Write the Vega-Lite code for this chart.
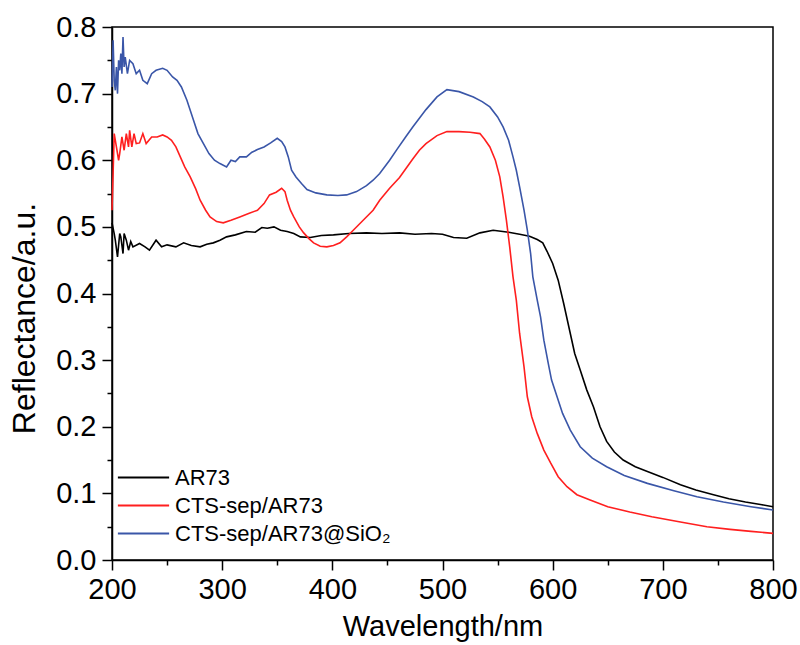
{
  "$schema": "https://vega.github.io/schema/vega-lite/v6.json",
  "width": 661,
  "height": 533,
  "autosize": {"type": "none"},
  "padding": {"left": 112, "top": 27, "right": 27, "bottom": 85},
  "background": "white",
  "config": {
    "view": {"stroke": "black", "strokeWidth": 1.5},
    "font": "Liberation Sans",
    "axis": {
      "grid": false,
      "domainColor": "black",
      "domainWidth": 1.5,
      "tickColor": "black",
      "tickWidth": 1.5,
      "labelFont": "Liberation Sans",
      "labelColor": "black",
      "titleFont": "Liberation Sans",
      "titleFontWeight": "normal",
      "titleColor": "black"
    }
  },
  "data": {
    "values": [
      {"s":"AR73","w":200,"r":0.506},{"s":"AR73","w":202,"r":0.49},{"s":"AR73","w":203,"r":0.48},{"s":"AR73","w":205,"r":0.455},{"s":"AR73","w":207,"r":0.49},{"s":"AR73","w":208,"r":0.485},{"s":"AR73","w":210,"r":0.46},{"s":"AR73","w":211,"r":0.49},{"s":"AR73","w":213,"r":0.48},{"s":"AR73","w":215,"r":0.465},{"s":"AR73","w":217,"r":0.478},{"s":"AR73","w":219,"r":0.47},{"s":"AR73","w":225,"r":0.475},{"s":"AR73","w":230,"r":0.47},{"s":"AR73","w":234,"r":0.465},{"s":"AR73","w":240,"r":0.48},{"s":"AR73","w":245,"r":0.47},{"s":"AR73","w":250,"r":0.473},{"s":"AR73","w":258,"r":0.47},{"s":"AR73","w":265,"r":0.476},{"s":"AR73","w":272,"r":0.472},{"s":"AR73","w":280,"r":0.47},{"s":"AR73","w":286,"r":0.474},{"s":"AR73","w":292,"r":0.476},{"s":"AR73","w":298,"r":0.48},{"s":"AR73","w":304,"r":0.485},{"s":"AR73","w":312,"r":0.488},{"s":"AR73","w":322,"r":0.493},{"s":"AR73","w":330,"r":0.492},{"s":"AR73","w":336,"r":0.499},{"s":"AR73","w":341,"r":0.498},{"s":"AR73","w":347,"r":0.5},{"s":"AR73","w":353,"r":0.495},{"s":"AR73","w":359,"r":0.493},{"s":"AR73","w":365,"r":0.49},{"s":"AR73","w":371,"r":0.485},{"s":"AR73","w":380,"r":0.484},{"s":"AR73","w":390,"r":0.487},{"s":"AR73","w":401,"r":0.488},{"s":"AR73","w":415,"r":0.49},{"s":"AR73","w":431,"r":0.491},{"s":"AR73","w":445,"r":0.49},{"s":"AR73","w":461,"r":0.491},{"s":"AR73","w":475,"r":0.489},{"s":"AR73","w":490,"r":0.49},{"s":"AR73","w":500,"r":0.489},{"s":"AR73","w":510,"r":0.484},{"s":"AR73","w":522,"r":0.483},{"s":"AR73","w":534,"r":0.491},{"s":"AR73","w":546,"r":0.495},{"s":"AR73","w":560,"r":0.492},{"s":"AR73","w":570,"r":0.489},{"s":"AR73","w":579,"r":0.486},{"s":"AR73","w":586,"r":0.481},{"s":"AR73","w":591,"r":0.476},{"s":"AR73","w":595,"r":0.463},{"s":"AR73","w":600,"r":0.445},{"s":"AR73","w":605,"r":0.42},{"s":"AR73","w":610,"r":0.385},{"s":"AR73","w":616,"r":0.34},{"s":"AR73","w":620,"r":0.31},{"s":"AR73","w":625,"r":0.285},{"s":"AR73","w":631,"r":0.255},{"s":"AR73","w":637,"r":0.23},{"s":"AR73","w":643,"r":0.2},{"s":"AR73","w":649,"r":0.178},{"s":"AR73","w":656,"r":0.162},{"s":"AR73","w":664,"r":0.15},{"s":"AR73","w":675,"r":0.14},{"s":"AR73","w":686,"r":0.133},{"s":"AR73","w":700,"r":0.124},{"s":"AR73","w":716,"r":0.113},{"s":"AR73","w":730,"r":0.105},{"s":"AR73","w":746,"r":0.098},{"s":"AR73","w":760,"r":0.092},{"s":"AR73","w":775,"r":0.087},{"s":"AR73","w":790,"r":0.083},{"s":"AR73","w":800,"r":0.08},

      {"s":"CTS-sep/AR73","w":200,"r":0.525},{"s":"CTS-sep/AR73","w":201,"r":0.58},{"s":"CTS-sep/AR73","w":202,"r":0.64},{"s":"CTS-sep/AR73","w":204,"r":0.62},{"s":"CTS-sep/AR73","w":206,"r":0.6},{"s":"CTS-sep/AR73","w":207,"r":0.61},{"s":"CTS-sep/AR73","w":209,"r":0.635},{"s":"CTS-sep/AR73","w":211,"r":0.615},{"s":"CTS-sep/AR73","w":213,"r":0.64},{"s":"CTS-sep/AR73","w":215,"r":0.62},{"s":"CTS-sep/AR73","w":216,"r":0.645},{"s":"CTS-sep/AR73","w":218,"r":0.62},{"s":"CTS-sep/AR73","w":220,"r":0.64},{"s":"CTS-sep/AR73","w":222,"r":0.625},{"s":"CTS-sep/AR73","w":225,"r":0.626},{"s":"CTS-sep/AR73","w":228,"r":0.64},{"s":"CTS-sep/AR73","w":231,"r":0.625},{"s":"CTS-sep/AR73","w":236,"r":0.635},{"s":"CTS-sep/AR73","w":241,"r":0.635},{"s":"CTS-sep/AR73","w":246,"r":0.638},{"s":"CTS-sep/AR73","w":250,"r":0.635},{"s":"CTS-sep/AR73","w":254,"r":0.63},{"s":"CTS-sep/AR73","w":258,"r":0.62},{"s":"CTS-sep/AR73","w":262,"r":0.605},{"s":"CTS-sep/AR73","w":266,"r":0.59},{"s":"CTS-sep/AR73","w":271,"r":0.575},{"s":"CTS-sep/AR73","w":276,"r":0.557},{"s":"CTS-sep/AR73","w":280,"r":0.54},{"s":"CTS-sep/AR73","w":285,"r":0.525},{"s":"CTS-sep/AR73","w":289,"r":0.515},{"s":"CTS-sep/AR73","w":295,"r":0.508},{"s":"CTS-sep/AR73","w":301,"r":0.506},{"s":"CTS-sep/AR73","w":308,"r":0.51},{"s":"CTS-sep/AR73","w":316,"r":0.515},{"s":"CTS-sep/AR73","w":324,"r":0.52},{"s":"CTS-sep/AR73","w":332,"r":0.525},{"s":"CTS-sep/AR73","w":338,"r":0.535},{"s":"CTS-sep/AR73","w":343,"r":0.548},{"s":"CTS-sep/AR73","w":349,"r":0.552},{"s":"CTS-sep/AR73","w":354,"r":0.558},{"s":"CTS-sep/AR73","w":357,"r":0.553},{"s":"CTS-sep/AR73","w":359,"r":0.54},{"s":"CTS-sep/AR73","w":362,"r":0.525},{"s":"CTS-sep/AR73","w":365,"r":0.515},{"s":"CTS-sep/AR73","w":370,"r":0.5},{"s":"CTS-sep/AR73","w":374,"r":0.491},{"s":"CTS-sep/AR73","w":379,"r":0.482},{"s":"CTS-sep/AR73","w":383,"r":0.476},{"s":"CTS-sep/AR73","w":389,"r":0.471},{"s":"CTS-sep/AR73","w":395,"r":0.47},{"s":"CTS-sep/AR73","w":401,"r":0.472},{"s":"CTS-sep/AR73","w":407,"r":0.476},{"s":"CTS-sep/AR73","w":413,"r":0.485},{"s":"CTS-sep/AR73","w":419,"r":0.495},{"s":"CTS-sep/AR73","w":428,"r":0.51},{"s":"CTS-sep/AR73","w":437,"r":0.525},{"s":"CTS-sep/AR73","w":443,"r":0.54},{"s":"CTS-sep/AR73","w":452,"r":0.558},{"s":"CTS-sep/AR73","w":461,"r":0.574},{"s":"CTS-sep/AR73","w":467,"r":0.588},{"s":"CTS-sep/AR73","w":473,"r":0.602},{"s":"CTS-sep/AR73","w":479,"r":0.615},{"s":"CTS-sep/AR73","w":485,"r":0.625},{"s":"CTS-sep/AR73","w":495,"r":0.637},{"s":"CTS-sep/AR73","w":504,"r":0.643},{"s":"CTS-sep/AR73","w":515,"r":0.643},{"s":"CTS-sep/AR73","w":525,"r":0.642},{"s":"CTS-sep/AR73","w":534,"r":0.64},{"s":"CTS-sep/AR73","w":538,"r":0.632},{"s":"CTS-sep/AR73","w":543,"r":0.62},{"s":"CTS-sep/AR73","w":548,"r":0.6},{"s":"CTS-sep/AR73","w":552,"r":0.575},{"s":"CTS-sep/AR73","w":555,"r":0.545},{"s":"CTS-sep/AR73","w":558,"r":0.51},{"s":"CTS-sep/AR73","w":561,"r":0.47},{"s":"CTS-sep/AR73","w":564,"r":0.425},{"s":"CTS-sep/AR73","w":567,"r":0.39},{"s":"CTS-sep/AR73","w":570,"r":0.34},{"s":"CTS-sep/AR73","w":574,"r":0.29},{"s":"CTS-sep/AR73","w":577,"r":0.245},{"s":"CTS-sep/AR73","w":581,"r":0.215},{"s":"CTS-sep/AR73","w":586,"r":0.19},{"s":"CTS-sep/AR73","w":592,"r":0.165},{"s":"CTS-sep/AR73","w":598,"r":0.146},{"s":"CTS-sep/AR73","w":605,"r":0.125},{"s":"CTS-sep/AR73","w":613,"r":0.11},{"s":"CTS-sep/AR73","w":622,"r":0.098},{"s":"CTS-sep/AR73","w":634,"r":0.09},{"s":"CTS-sep/AR73","w":650,"r":0.08},{"s":"CTS-sep/AR73","w":670,"r":0.072},{"s":"CTS-sep/AR73","w":690,"r":0.065},{"s":"CTS-sep/AR73","w":716,"r":0.057},{"s":"CTS-sep/AR73","w":740,"r":0.05},{"s":"CTS-sep/AR73","w":761,"r":0.046},{"s":"CTS-sep/AR73","w":780,"r":0.043},{"s":"CTS-sep/AR73","w":800,"r":0.04},

      {"s":"CTS-sep/AR73@SiO₂","w":200,"r":0.71},{"s":"CTS-sep/AR73@SiO₂","w":201,"r":0.78},{"s":"CTS-sep/AR73@SiO₂","w":202,"r":0.72},{"s":"CTS-sep/AR73@SiO₂","w":203,"r":0.705},{"s":"CTS-sep/AR73@SiO₂","w":204,"r":0.74},{"s":"CTS-sep/AR73@SiO₂","w":205,"r":0.7},{"s":"CTS-sep/AR73@SiO₂","w":206,"r":0.75},{"s":"CTS-sep/AR73@SiO₂","w":207,"r":0.735},{"s":"CTS-sep/AR73@SiO₂","w":208,"r":0.76},{"s":"CTS-sep/AR73@SiO₂","w":209,"r":0.73},{"s":"CTS-sep/AR73@SiO₂","w":210,"r":0.785},{"s":"CTS-sep/AR73@SiO₂","w":211,"r":0.74},{"s":"CTS-sep/AR73@SiO₂","w":212,"r":0.755},{"s":"CTS-sep/AR73@SiO₂","w":214,"r":0.73},{"s":"CTS-sep/AR73@SiO₂","w":216,"r":0.75},{"s":"CTS-sep/AR73@SiO₂","w":219,"r":0.745},{"s":"CTS-sep/AR73@SiO₂","w":222,"r":0.73},{"s":"CTS-sep/AR73@SiO₂","w":225,"r":0.735},{"s":"CTS-sep/AR73@SiO₂","w":228,"r":0.72},{"s":"CTS-sep/AR73@SiO₂","w":232,"r":0.715},{"s":"CTS-sep/AR73@SiO₂","w":236,"r":0.73},{"s":"CTS-sep/AR73@SiO₂","w":240,"r":0.735},{"s":"CTS-sep/AR73@SiO₂","w":246,"r":0.738},{"s":"CTS-sep/AR73@SiO₂","w":250,"r":0.735},{"s":"CTS-sep/AR73@SiO₂","w":255,"r":0.725},{"s":"CTS-sep/AR73@SiO₂","w":259,"r":0.72},{"s":"CTS-sep/AR73@SiO₂","w":263,"r":0.71},{"s":"CTS-sep/AR73@SiO₂","w":268,"r":0.69},{"s":"CTS-sep/AR73@SiO₂","w":274,"r":0.66},{"s":"CTS-sep/AR73@SiO₂","w":278,"r":0.64},{"s":"CTS-sep/AR73@SiO₂","w":283,"r":0.625},{"s":"CTS-sep/AR73@SiO₂","w":288,"r":0.61},{"s":"CTS-sep/AR73@SiO₂","w":293,"r":0.6},{"s":"CTS-sep/AR73@SiO₂","w":298,"r":0.595},{"s":"CTS-sep/AR73@SiO₂","w":304,"r":0.59},{"s":"CTS-sep/AR73@SiO₂","w":308,"r":0.6},{"s":"CTS-sep/AR73@SiO₂","w":312,"r":0.598},{"s":"CTS-sep/AR73@SiO₂","w":316,"r":0.605},{"s":"CTS-sep/AR73@SiO₂","w":322,"r":0.605},{"s":"CTS-sep/AR73@SiO₂","w":327,"r":0.612},{"s":"CTS-sep/AR73@SiO₂","w":332,"r":0.616},{"s":"CTS-sep/AR73@SiO₂","w":338,"r":0.62},{"s":"CTS-sep/AR73@SiO₂","w":344,"r":0.626},{"s":"CTS-sep/AR73@SiO₂","w":350,"r":0.633},{"s":"CTS-sep/AR73@SiO₂","w":354,"r":0.628},{"s":"CTS-sep/AR73@SiO₂","w":357,"r":0.62},{"s":"CTS-sep/AR73@SiO₂","w":360,"r":0.605},{"s":"CTS-sep/AR73@SiO₂","w":363,"r":0.585},{"s":"CTS-sep/AR73@SiO₂","w":367,"r":0.575},{"s":"CTS-sep/AR73@SiO₂","w":372,"r":0.565},{"s":"CTS-sep/AR73@SiO₂","w":377,"r":0.556},{"s":"CTS-sep/AR73@SiO₂","w":385,"r":0.551},{"s":"CTS-sep/AR73@SiO₂","w":395,"r":0.548},{"s":"CTS-sep/AR73@SiO₂","w":405,"r":0.547},{"s":"CTS-sep/AR73@SiO₂","w":413,"r":0.548},{"s":"CTS-sep/AR73@SiO₂","w":422,"r":0.553},{"s":"CTS-sep/AR73@SiO₂","w":431,"r":0.562},{"s":"CTS-sep/AR73@SiO₂","w":437,"r":0.57},{"s":"CTS-sep/AR73@SiO₂","w":443,"r":0.58},{"s":"CTS-sep/AR73@SiO₂","w":452,"r":0.6},{"s":"CTS-sep/AR73@SiO₂","w":459,"r":0.617},{"s":"CTS-sep/AR73@SiO₂","w":467,"r":0.636},{"s":"CTS-sep/AR73@SiO₂","w":473,"r":0.65},{"s":"CTS-sep/AR73@SiO₂","w":479,"r":0.663},{"s":"CTS-sep/AR73@SiO₂","w":485,"r":0.676},{"s":"CTS-sep/AR73@SiO₂","w":495,"r":0.695},{"s":"CTS-sep/AR73@SiO₂","w":504,"r":0.706},{"s":"CTS-sep/AR73@SiO₂","w":515,"r":0.703},{"s":"CTS-sep/AR73@SiO₂","w":528,"r":0.695},{"s":"CTS-sep/AR73@SiO₂","w":536,"r":0.688},{"s":"CTS-sep/AR73@SiO₂","w":543,"r":0.68},{"s":"CTS-sep/AR73@SiO₂","w":550,"r":0.665},{"s":"CTS-sep/AR73@SiO₂","w":555,"r":0.65},{"s":"CTS-sep/AR73@SiO₂","w":560,"r":0.63},{"s":"CTS-sep/AR73@SiO₂","w":564,"r":0.605},{"s":"CTS-sep/AR73@SiO₂","w":567,"r":0.585},{"s":"CTS-sep/AR73@SiO₂","w":570,"r":0.56},{"s":"CTS-sep/AR73@SiO₂","w":574,"r":0.525},{"s":"CTS-sep/AR73@SiO₂","w":577,"r":0.495},{"s":"CTS-sep/AR73@SiO₂","w":580,"r":0.46},{"s":"CTS-sep/AR73@SiO₂","w":582,"r":0.425},{"s":"CTS-sep/AR73@SiO₂","w":586,"r":0.39},{"s":"CTS-sep/AR73@SiO₂","w":589,"r":0.365},{"s":"CTS-sep/AR73@SiO₂","w":592,"r":0.33},{"s":"CTS-sep/AR73@SiO₂","w":596,"r":0.295},{"s":"CTS-sep/AR73@SiO₂","w":599,"r":0.27},{"s":"CTS-sep/AR73@SiO₂","w":604,"r":0.245},{"s":"CTS-sep/AR73@SiO₂","w":609,"r":0.22},{"s":"CTS-sep/AR73@SiO₂","w":616,"r":0.195},{"s":"CTS-sep/AR73@SiO₂","w":625,"r":0.17},{"s":"CTS-sep/AR73@SiO₂","w":636,"r":0.153},{"s":"CTS-sep/AR73@SiO₂","w":649,"r":0.14},{"s":"CTS-sep/AR73@SiO₂","w":665,"r":0.127},{"s":"CTS-sep/AR73@SiO₂","w":686,"r":0.115},{"s":"CTS-sep/AR73@SiO₂","w":710,"r":0.104},{"s":"CTS-sep/AR73@SiO₂","w":731,"r":0.095},{"s":"CTS-sep/AR73@SiO₂","w":755,"r":0.087},{"s":"CTS-sep/AR73@SiO₂","w":780,"r":0.08},{"s":"CTS-sep/AR73@SiO₂","w":800,"r":0.075}
    ]
  },
  "layer": [
    {
      "mark": {"type": "line", "strokeWidth": 1.6, "interpolate": "linear"},
      "encoding": {
        "x": {"field": "w", "type": "quantitative", "scale": {"domain": [200, 800], "nice": false, "zero": false},
          "axis": {"orient": "bottom", "title": "Wavelength/nm", "values": [200, 300, 400, 500, 600, 700, 800], "ticks": true, "tickSize": 10, "labelFontSize": 29, "titleFontSize": 29, "labelPadding": 5, "titlePadding": 8, "labelFlush": false}},
        "y": {"field": "r", "type": "quantitative", "scale": {"domain": [0, 0.8], "nice": false},
          "axis": {"orient": "left", "title": "Reflectance/a.u.", "values": [0, 0.1, 0.2, 0.3, 0.4, 0.5, 0.6, 0.7, 0.8], "format": ".1f", "ticks": true, "tickSize": 10, "labelFontSize": 29, "titleFontSize": 32, "titleY": 291, "labelPadding": 6, "titlePadding": 14, "labelFlush": false}},
        "color": {"field": "s", "type": "nominal",
          "scale": {"domain": ["AR73", "CTS-sep/AR73", "CTS-sep/AR73@SiO₂"], "range": ["#000000", "#ff1f1f", "#3a56a8"]},
          "legend": {"title": null, "orient": "none", "legendX": 20, "legendY": 439, "symbolType": "M-2.5,0H2.5", "symbolSize": 420, "symbolStrokeWidth": 2, "symbolFillColor": "transparent", "rowPadding": 5, "labelOffset": 20, "labelFontSize": 22, "labelFont": "Liberation Sans", "labelColor": "black", "labelLimit": 500}},
        "order": {"field": "w", "type": "quantitative"}
      }
    },
    {
      "mark": {"type": "point", "opacity": 0},
      "encoding": {
        "x": {"field": "w", "type": "quantitative", "scale": {"domain": [200, 800], "nice": false, "zero": false},
          "axis": {"orient": "bottom", "title": null, "labels": false, "domain": false, "values": [250, 350, 450, 550, 650, 750], "ticks": true, "tickSize": 5}},
        "y": {"field": "r", "type": "quantitative", "scale": {"domain": [0, 0.8], "nice": false},
          "axis": {"orient": "left", "title": null, "labels": false, "domain": false, "values": [0.05, 0.15, 0.25, 0.35, 0.45, 0.55, 0.65, 0.75], "ticks": true, "tickSize": 5}}
      }
    }
  ],
  "resolve": {"axis": {"x": "independent", "y": "independent"}}
}
